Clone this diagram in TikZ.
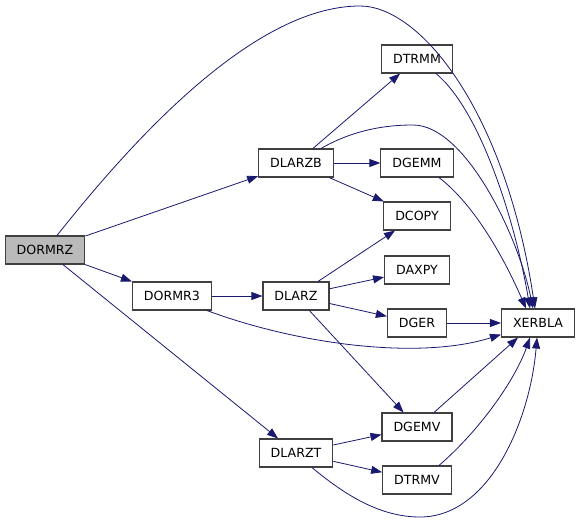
\documentclass[tikz,border=0pt]{standalone}
\usepackage{fontspec}
\setmainfont{DejaVu Sans}
\usetikzlibrary{arrows.meta}
\definecolor{edgeblue}{HTML}{191970}
\tikzset{
  fn/.style={draw=black!75, line width=1.1pt, fill=white, minimum height=28pt,
    inner xsep=11.5pt, font=\fontsize{12.6}{15}\selectfont},
  call/.style={draw=edgeblue, line width=0.8pt,
    -{Triangle[length=11pt,width=8pt]}}
}
\begin{document}
\begin{tikzpicture}[x=1pt,y=-1pt]
        \useasboundingbox (0,0) rectangle (581,522);

        % Draw the routines of the call graph
        \node[fn, fill=black!27] (dormrz) at (45, 250) {DORMRZ};
        \node[fn] (dlarzb) at (296, 163) {DLARZB};
        \node[fn] (dormr3) at (172, 296) {DORMR3};
        \node[fn] (dlarz) at (296, 296) {DLARZ};
        \node[fn] (dlarzt) at (296, 453) {DLARZT};

        \node[fn] (dtrmm) at (417, 59) {DTRMM};
        \node[fn] (dgemm) at (417, 163) {DGEMM};
        \node[fn] (dcopy) at (417, 216) {DCOPY};
        \node[fn] (daxpy) at (417, 270) {DAXPY};
        \node[fn] (dger) at (417, 323) {DGER};
        \node[fn] (dgemv) at (417, 427) {DGEMV};
        \node[fn] (dtrmv) at (417, 480) {DTRMV};

        \node[fn] (xerbla) at (538, 323) {XERBLA};

        % Calls made by DORMRZ
        \draw[call] ([xshift=12pt]dormrz.north) .. controls (125,150) and (250,6) .. (360,6)
            .. controls (420,6) and (505,110) .. ([xshift=-3pt]xerbla.north);
        \draw[call] (dormrz) -- (dlarzb);
        \draw[call] (dormrz) -- (dormr3);
        \draw[call] (dormrz) -- (dlarzt);

        % Calls made by DLARZB
        \draw[call] (dlarzb) -- (dtrmm);
        \draw[call] ([xshift=25pt]dlarzb.north) .. controls (350,132) and (380,125) .. (413,125)
            .. controls (465,125) and (518,235) .. ([xshift=-5pt]xerbla.north);
        \draw[call] (dlarzb) -- (dgemm);
        \draw[call] (dlarzb) -- (dcopy);

        % Calls made by DORMR3
        \draw[call] (dormr3) -- (dlarz);
        \draw[call] ([xshift=35pt]dormr3.south) .. controls (300,345) and (420,360) .. ([yshift=3pt]xerbla.south west);

        % Calls made by DLARZ
        \draw[call] (dlarz) -- (dcopy);
        \draw[call] (dlarz) -- (daxpy);
        \draw[call] (dlarz) -- (dger);
        \draw[call] (dlarz) -- (dgemv);

        % Calls made by DLARZT
        \draw[call] (dlarzt) -- (dgemv);
        \draw[call] (dlarzt) -- (dtrmv);
        \draw[call] ([xshift=16pt]dlarzt.south) .. controls (345,495) and (380,517) .. (420,517)
            .. controls (490,517) and (530,420) .. ([xshift=-1pt]xerbla.south);

        % Calls that end in XERBLA
        \draw[call] ([xshift=19pt]dtrmm.south) .. controls (480,110) and (515,220) .. ([xshift=-8pt]xerbla.north);
        \draw[call] ([xshift=22pt]dgemm.south) .. controls (475,205) and (505,260) .. ([xshift=-12pt]xerbla.north);
        \draw[call] (dger) -- (xerbla);
        \draw[call] ([xshift=17pt]dgemv.north) -- ([xshift=-20pt]xerbla.south);
        \draw[call] ([xshift=22pt]dtrmv.north) .. controls (480,430) and (515,380) .. ([xshift=-8pt]xerbla.south);
    \end{tikzpicture}
\end{document}
